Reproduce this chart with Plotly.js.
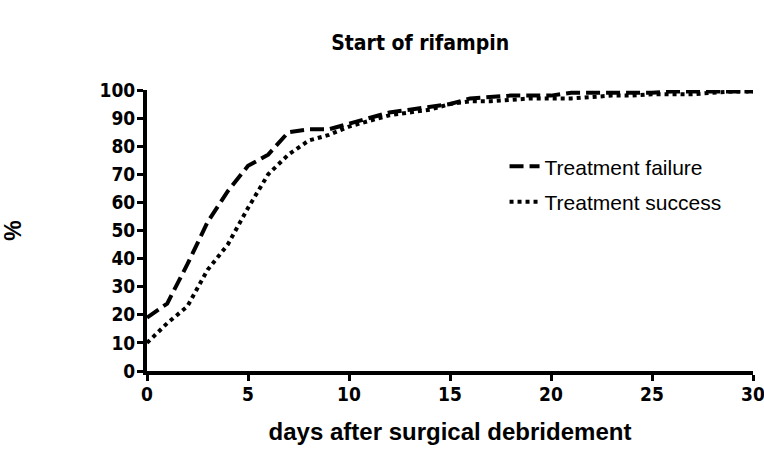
<!DOCTYPE html>
<html>
<head>
<meta charset="utf-8">
<script src="https://cdn.plot.ly/plotly-3.0.1.min.js"></script>
<style>html,body{margin:0;padding:0;background:#fff;}#chart{width:764px;height:472px;}</style>
</head>
<body>
<div id="chart"></div>
<script>
var days = [0,1,2,3,4,5,6,7,8,9,10,11,12,13,14,15,16,17,18,19,20,21,22,23,24,25,26,27,28,29,30];
var failure = [19,24,38,53,64,73,77,85,86,86,88,90,92,93,94,95,97,97.5,98,98,98,99,99,99,99,99,99.5,99.5,99.5,99.5,99.5];
var success = [10,17,23,36,45,58,70,77,82,84,87,89,91,92,93,95,96,96,96.5,97,97,97,97.5,98,98,98.5,98.5,98.5,99,99.5,99.5];
var seriesNames = ["Treatment failure","Treatment success"];
var xTicks = [0,5,10,15,20,25,30];
var yTicks = [0,10,20,30,40,50,60,70,80,90,100];

var cond = "'DejaVu Sans Condensed', 'Liberation Sans Narrow', Arial, sans-serif";
var sans = "'Liberation Sans', Arial, sans-serif";
function bold(v){ return '<b>' + v + '</b>'; }

var traces = [
  {x: days, y: failure, name: seriesNames[0], mode: 'lines', legendgroup: 'a',
   line: {color: '#000', width: 4, dash: '14px,6px'}},
  {x: days, y: success, name: seriesNames[1], mode: 'lines', legendgroup: 'b',
   line: {color: '#000', width: 4, dash: '4px,4px'}}
];

var layout = {
  width: 764, height: 472,
  paper_bgcolor: '#fff', plot_bgcolor: '#fff',
  margin: {l: 147, r: 11, t: 90, b: 101},
  title: {text: bold('Start of rifampin'), font: {family: cond, size: 21, color: '#000'},
          x: 0.55, xanchor: 'center', y: 0.91, yanchor: 'middle'},
  showlegend: true,
  legend: {x: 0.59, xanchor: 'left', y: 0.80, yanchor: 'top', bgcolor: 'rgba(0,0,0,0)',
           font: {family: sans, size: 21, color: '#000'}, traceorder: 'grouped', tracegroupgap: 5},
  xaxis: {range: [0, 30], tickvals: xTicks, ticktext: xTicks.map(bold),
          showgrid: false, zeroline: false, showline: true, linecolor: '#000', linewidth: 4,
          ticks: 'outside', ticklen: 6, tickwidth: 3, tickcolor: '#000', ticklabeloverflow: 'allow',
          ticklabelstandoff: -3,
          tickfont: {family: cond, size: 19, color: '#000'},
          title: {text: bold('days after surgical debridement'), font: {family: sans, size: 24, color: '#000'}, standoff: 20}},
  yaxis: {range: [0, 100], tickvals: yTicks, ticktext: yTicks.map(bold),
          showgrid: false, zeroline: false, showline: true, linecolor: '#000', linewidth: 4,
          ticks: 'outside', ticklen: 6, tickwidth: 3, tickcolor: '#000', ticklabelstandoff: -2,
          tickfont: {family: cond, size: 19, color: '#000'},
          title: {text: bold('%'), font: {family: sans, size: 23, color: '#000'}, standoff: 92}}
};

Plotly.newPlot('chart', traces, layout, {displayModeBar: false, staticPlot: true});
</script>
</body>
</html>
